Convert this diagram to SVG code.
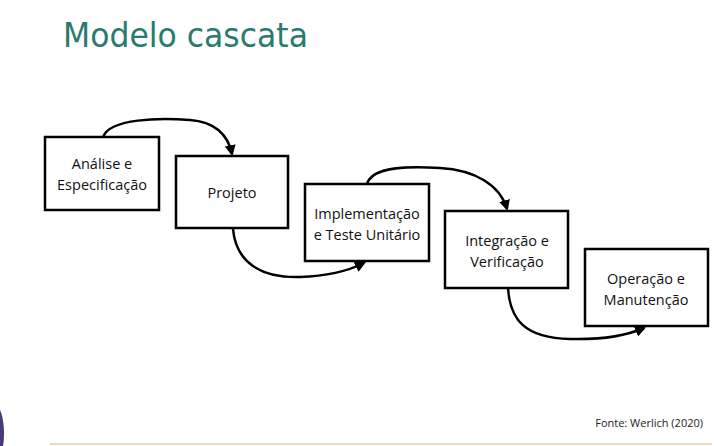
<svg xmlns="http://www.w3.org/2000/svg" width="714" height="446" viewBox="0 0 714 446">
<style>
.box{fill:#fff;stroke:#000;stroke-width:2.5}
.lbl{font-family:"Open Sans","Liberation Sans",sans-serif;font-size:14.5px;fill:#111;text-anchor:middle}
.con{fill:none;stroke:#000;stroke-width:2.5}
</style>
<defs>
<marker id="ah" viewBox="0 0 10 10" refX="8" refY="5" markerWidth="4.4" markerHeight="4.4" orient="auto" markerUnits="strokeWidth">
<path d="M0,0 L10,5 L0,10 z" fill="#000"/>
</marker>
</defs>
<rect width="714" height="446" fill="#fff"/>
<text x="63" y="47" font-family="'DejaVu Sans',Verdana,sans-serif" font-size="34" fill="#2a7a6e" textLength="245" lengthAdjust="spacingAndGlyphs">Modelo cascata</text>
<g id="connectors">
<path class="con" d="M103,137 C110,118 160,118 190,120 C215,122 228,135 232,154" marker-end="url(#ah)"/>
<path class="con" d="M233,229 C236,262 260,278 300,277 C330,276 350,270 364,263" marker-end="url(#ah)"/>
<path class="con" d="M367,184 C372,166 410,166 440,168 C475,170 500,185 507,209" marker-end="url(#ah)"/>
<path class="con" d="M508,288 C510,320 525,338 570,339 C605,340 630,334 644,328" marker-end="url(#ah)"/>
</g>
<g id="n1"><rect class="box" x="45" y="137" width="114" height="73"/>
<text class="lbl" x="102" y="169">Análise e</text><text class="lbl" x="102" y="190">Especificação</text></g>
<g id="n2"><rect class="box" x="176" y="156" width="112" height="72"/>
<text class="lbl" x="232" y="198">Projeto</text></g>
<g id="n3"><rect class="box" x="305" y="184" width="124" height="77"/>
<text class="lbl" x="367" y="219">Implementação</text><text class="lbl" x="367" y="240">e Teste Unitário</text></g>
<g id="n4"><rect class="box" x="445" y="211" width="123" height="77"/>
<text class="lbl" x="507" y="246">Integração e</text><text class="lbl" x="507" y="267">Verificação</text></g>
<g id="n5"><rect class="box" x="585" y="249" width="123" height="77"/>
<text class="lbl" x="646" y="284">Operação e</text><text class="lbl" x="646" y="305">Manutenção</text></g>
<text x="703" y="427" font-family="'Open Sans','Liberation Sans',sans-serif" font-size="11" fill="#222" text-anchor="end">Fonte: Werlich (2020)</text>
<line x1="50" y1="444" x2="712" y2="444" stroke="#f6c8a6" stroke-width="1.5"/>
<path d="M0,410 C4,418 5,436 3,446 L0,446 z" fill="#4a3a78"/>
</svg>
